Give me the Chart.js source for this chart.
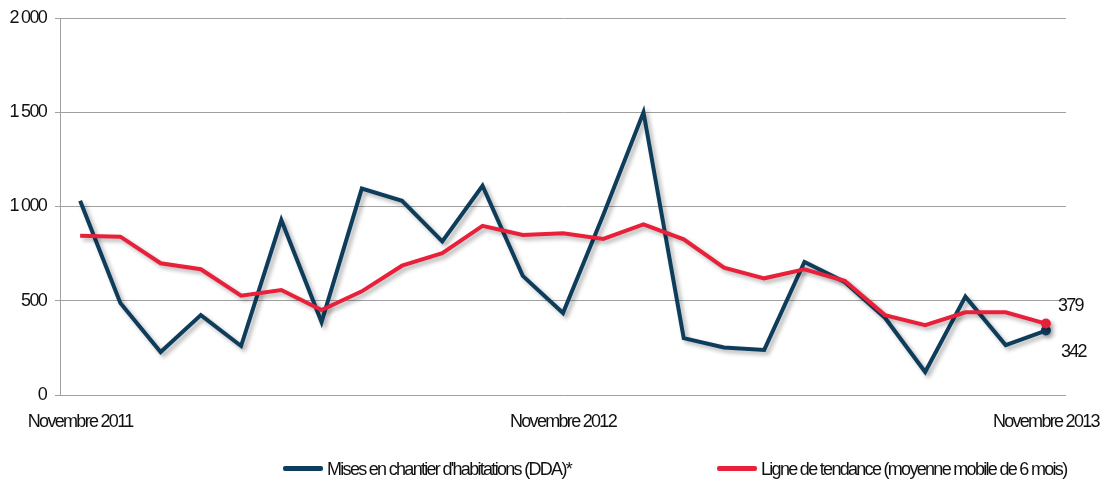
<!DOCTYPE html>
<html>
<head>
<meta charset="utf-8">
<script src="https://cdn.jsdelivr.net/npm/chart.js@4"></script>
<style>
  html, body { margin: 0; padding: 0; background: #fff; }
  #wrap { position: relative; width: 1107px; height: 491px; }
  .legend { position: absolute; top: 459px; font: 18px 'Liberation Sans', Arial, sans-serif; color: #111; white-space: nowrap; letter-spacing: -1.7px; }
  .legend span.sw { display: inline-block; width: 40px; height: 5px; border-radius: 2px; vertical-align: middle; margin-right: 4px; position: relative; top: -2px; }
</style>
</head>
<body>
<div id="wrap">
  <canvas id="chart" width="1107" height="491"></canvas>
  <div class="legend" style="left:283px"><span class="sw" style="background:#0e3d5c"></span>Mises en chantier d'habitations (DDA)*</div>
  <div class="legend" style="left:717px"><span class="sw" style="background:#e8203a"></span>Ligne de tendance (moyenne mobile de 6 mois)</div>
</div>
<script>
// Monthly values, Nov 2011 -> Nov 2013
const months = ['Novembre 2011', 'Déc 2011', 'Jan 2012', 'Fév 2012', 'Mar 2012', 'Avr 2012', 'Mai 2012',
  'Juin 2012', 'Juil 2012', 'Août 2012', 'Sep 2012', 'Oct 2012', 'Novembre 2012', 'Déc 2012', 'Jan 2013',
  'Fév 2013', 'Mar 2013', 'Avr 2013', 'Mai 2013', 'Juin 2013', 'Juil 2013', 'Août 2013', 'Sep 2013',
  'Oct 2013', 'Novembre 2013'];
const shownLabels = ['Novembre 2011', 'Novembre 2012', 'Novembre 2013'];
const starts = [1030, 488, 228, 424, 260, 928, 387, 1095, 1030, 815, 1110, 632, 435,
  955, 1500, 302, 252, 239, 706, 600, 410, 122, 522, 265, 342];
const trend = [845, 840, 699, 667, 527, 557, 451, 550, 686, 752, 897, 849, 858,
  828, 905, 826, 676, 619, 667, 606, 424, 371, 439, 439, 379];
const yTicks = [0, 500, 1000, 1500, 2000];

const BLUE = '#0e3d5c';
const RED = '#e8203a';
const FONT = "'Liberation Sans', Arial, sans-serif";
const TIGHT = '-1.7px';

const lastOnly = arr => arr.map((v, i) => i === arr.length - 1 ? 5 : 0);

// narrow-looking text (no condensed font available)
const tightText = {
  id: 'tightText',
  beforeInit(chart) { chart.ctx.letterSpacing = TIGHT; },
  beforeLayout(chart) { chart.ctx.letterSpacing = TIGHT; },
  beforeDraw(chart) { chart.ctx.letterSpacing = TIGHT; }
};

// drop shadow under the lines
const shadowPlugin = {
  id: 'shadow',
  beforeDatasetDraw(chart) {
    const ctx = chart.ctx;
    ctx.save();
    ctx.shadowColor = 'rgba(0,0,0,0.3)';
    ctx.shadowBlur = 4;
    ctx.shadowOffsetX = 3;
    ctx.shadowOffsetY = 3;
  },
  afterDatasetDraw(chart) {
    chart.ctx.restore();
  }
};

// value labels on the last point
const lastLabelPlugin = {
  id: 'lastLabel',
  afterDatasetsDraw(chart) {
    const ctx = chart.ctx;
    ctx.save();
    ctx.font = '18px ' + FONT;
    ctx.fillStyle = '#111';
    ctx.textBaseline = 'middle';
    ctx.textAlign = 'left';
    const offsets = [[15, 21], [12, -18]];
    chart.data.datasets.forEach((ds, i) => {
      const meta = chart.getDatasetMeta(i);
      const pt = meta.data[meta.data.length - 1];
      const v = ds.data[ds.data.length - 1];
      ctx.fillText(String(v), pt.x + offsets[i][0], pt.y + offsets[i][1]);
    });
    ctx.restore();
  }
};

new Chart(document.getElementById('chart'), {
  type: 'line',
  data: {
    labels: months,
    datasets: [
      {
        label: "Mises en chantier d'habitations (DDA)*",
        data: starts,
        borderColor: BLUE,
        backgroundColor: BLUE,
        borderWidth: 4,
        pointRadius: lastOnly(starts),
        pointBorderWidth: 0,
        tension: 0,
        order: 2
      },
      {
        label: 'Ligne de tendance (moyenne mobile de 6 mois)',
        data: trend,
        borderColor: RED,
        backgroundColor: RED,
        borderWidth: 4,
        pointRadius: lastOnly(trend),
        pointBorderWidth: 0,
        tension: 0,
        order: 1
      }
    ]
  },
  options: {
    responsive: false,
    animation: false,
    layout: { padding: { top: 18, right: 41, bottom: 46, left: 0 } },
    plugins: { legend: { display: false }, tooltip: { enabled: false } },
    scales: {
      x: {
        offset: true,
        grid: { display: false },
        border: { display: false },
        afterFit: s => { s.height = 50; s.paddingLeft = 0; s.paddingRight = 0; },
        ticks: {
          autoSkip: false,
          maxRotation: 0,
          padding: 8,
          color: '#111',
          font: { family: FONT, size: 18 },
          callback: function (v, i) {
            const l = this.getLabelForValue(v);
            return shownLabels.includes(l) ? l : '';
          }
        }
      },
      y: {
        min: 0,
        max: 2000,
        afterFit: s => { s.width = 60; s.paddingTop = 0; s.paddingBottom = 0; },
        afterBuildTicks: s => { s.ticks = yTicks.map(v => ({ value: v })); },
        grid: { color: '#a0a0a0', lineWidth: 1, tickLength: 5 },
        border: { display: true, color: '#a0a0a0' },
        ticks: {
          padding: 9,
          color: '#111',
          font: { family: FONT, size: 18 },
          callback: v => v.toLocaleString('fr-FR').replace(/\s/g, ' ')
        }
      }
    }
  },
  plugins: [tightText, shadowPlugin, lastLabelPlugin]
});
</script>
</body>
</html>
